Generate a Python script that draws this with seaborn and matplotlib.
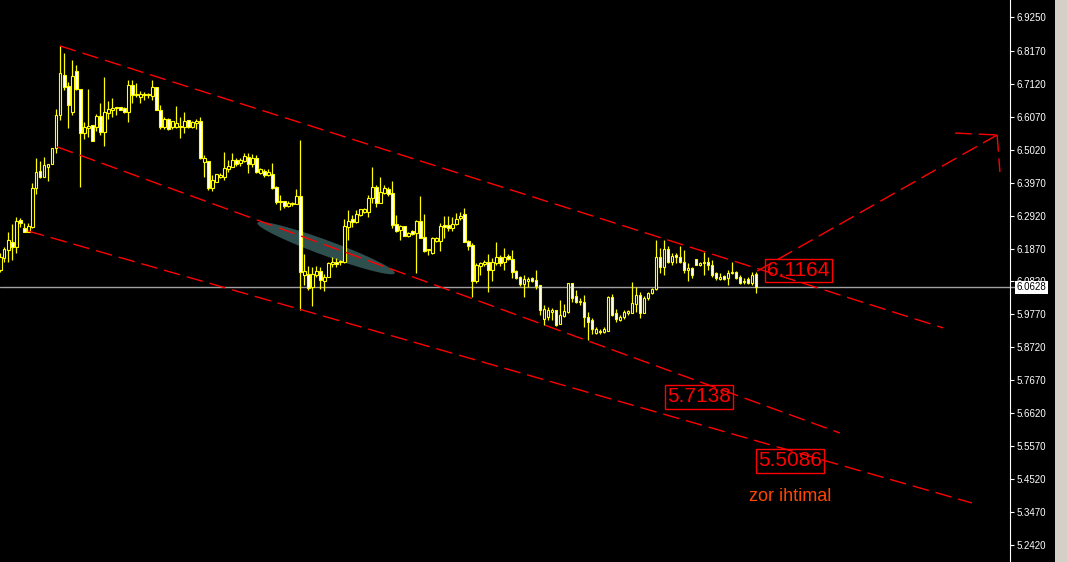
import numpy as np
import matplotlib
matplotlib.use("Agg")
import matplotlib.pyplot as plt
import matplotlib.transforms as mtransforms
from matplotlib.patches import Polygon, Rectangle
import seaborn as sns

# candle data (one bar per candle, left to right)
opens = [
    6.119, 6.157, 6.182, 6.208, 6.192, 6.278, 6.253, 6.240, 6.256, 6.380,
    6.434, 6.415, 6.447, 6.456, 6.508, 6.613, 6.740, 6.705, 6.622, 6.753,
    6.696, 6.555, 6.571, 6.581, 6.574, 6.610, 6.558, 6.619, 6.629, 6.635,
    6.638, 6.635, 6.622, 6.708, 6.676, 6.670, 6.676, 6.676, 6.673, 6.702,
    6.629, 6.574, 6.600, 6.574, 6.574, 6.574, 6.574, 6.597, 6.574, 6.587,
    6.594, 6.463, 6.466, 6.380, 6.399, 6.415, 6.415, 6.441, 6.447, 6.469,
    6.460, 6.466, 6.479, 6.456, 6.476, 6.428, 6.434, 6.421, 6.425, 6.383,
    6.339, 6.339, 6.323, 6.329, 6.329, 6.355, 6.103, 6.106, 6.064, 6.103,
    6.115, 6.084, 6.096, 6.138, 6.144, 6.144, 6.144, 6.256, 6.281, 6.272,
    6.294, 6.303, 6.303, 6.348, 6.383, 6.332, 6.364, 6.377, 6.364, 6.265,
    6.246, 6.259, 6.227, 6.243, 6.237, 6.275, 6.224, 6.182, 6.173, 6.211,
    6.211, 6.262, 6.262, 6.253, 6.265, 6.284, 6.297, 6.211, 6.198, 6.084,
    6.131, 6.138, 6.144, 6.119, 6.141, 6.160, 6.144, 6.163, 6.154, 6.115,
    6.096, 6.074, 6.084, 6.093, 6.087, 6.071, 5.962, 5.969, 5.985, 5.991,
    5.946, 5.972, 5.985, 6.077, 6.036, 6.017, 6.017, 5.969, 5.959, 5.918,
    5.924, 5.921, 5.924, 6.033, 5.981, 5.959, 5.969, 5.981, 5.981, 6.010,
    6.039, 5.981, 6.029, 6.045, 6.058, 6.160, 6.128, 6.186, 6.144, 6.166,
    6.160, 6.144, 6.119, 6.125, 6.154, 6.135, 6.141, 6.144, 6.135, 6.109,
    6.090, 6.099, 6.093, 6.109, 6.112, 6.096, 6.080, 6.090, 6.077, 6.106,
]
highs = [
    6.173, 6.192, 6.240, 6.265, 6.288, 6.284, 6.268, 6.268, 6.396, 6.476,
    6.466, 6.479, 6.456, 6.508, 6.632, 6.833, 6.810, 6.718, 6.788, 6.772,
    6.696, 6.590, 6.696, 6.581, 6.616, 6.651, 6.734, 6.657, 6.667, 6.638,
    6.638, 6.638, 6.724, 6.724, 6.715, 6.689, 6.686, 6.683, 6.724, 6.702,
    6.645, 6.606, 6.603, 6.594, 6.641, 6.606, 6.622, 6.597, 6.594, 6.600,
    6.606, 6.485, 6.466, 6.421, 6.425, 6.428, 6.495, 6.469, 6.492, 6.476,
    6.476, 6.492, 6.492, 6.488, 6.485, 6.444, 6.441, 6.441, 6.460, 6.386,
    6.358, 6.339, 6.339, 6.335, 6.377, 6.533, 6.170, 6.131, 6.128, 6.131,
    6.128, 6.106, 6.144, 6.160, 6.157, 6.151, 6.281, 6.310, 6.294, 6.310,
    6.313, 6.316, 6.358, 6.447, 6.390, 6.415, 6.390, 6.383, 6.402, 6.294,
    6.262, 6.259, 6.240, 6.246, 6.278, 6.355, 6.297, 6.186, 6.224, 6.224,
    6.268, 6.291, 6.291, 6.288, 6.300, 6.303, 6.316, 6.214, 6.205, 6.141,
    6.144, 6.151, 6.170, 6.157, 6.208, 6.166, 6.189, 6.170, 6.182, 6.119,
    6.099, 6.103, 6.096, 6.096, 6.119, 6.071, 6.007, 6.001, 5.997, 5.991,
    6.023, 6.010, 6.077, 6.077, 6.055, 6.029, 6.039, 5.985, 5.966, 5.937,
    5.931, 5.937, 6.036, 6.042, 5.994, 5.975, 5.991, 5.991, 6.080, 6.064,
    6.048, 6.036, 6.048, 6.061, 6.214, 6.189, 6.214, 6.195, 6.173, 6.173,
    6.195, 6.182, 6.141, 6.128, 6.154, 6.144, 6.176, 6.160, 6.151, 6.112,
    6.109, 6.103, 6.119, 6.144, 6.115, 6.103, 6.093, 6.096, 6.112, 6.112,
]
lows = [
    6.112, 6.144, 6.144, 6.151, 6.173, 6.256, 6.240, 6.240, 6.253, 6.361,
    6.412, 6.415, 6.402, 6.456, 6.492, 6.597, 6.692, 6.571, 6.613, 6.692,
    6.383, 6.536, 6.543, 6.530, 6.562, 6.549, 6.514, 6.600, 6.606, 6.613,
    6.629, 6.619, 6.590, 6.651, 6.670, 6.651, 6.661, 6.667, 6.661, 6.629,
    6.568, 6.568, 6.565, 6.568, 6.571, 6.539, 6.555, 6.571, 6.571, 6.568,
    6.472, 6.415, 6.374, 6.370, 6.399, 6.412, 6.406, 6.431, 6.447, 6.450,
    6.450, 6.463, 6.428, 6.447, 6.428, 6.425, 6.415, 6.418, 6.377, 6.329,
    6.310, 6.316, 6.319, 6.323, 6.329, 5.991, 6.071, 6.055, 6.004, 6.096,
    6.058, 6.052, 6.096, 6.128, 6.128, 6.135, 6.141, 6.214, 6.256, 6.268,
    6.291, 6.300, 6.288, 6.332, 6.319, 6.332, 6.361, 6.355, 6.253, 6.240,
    6.214, 6.227, 6.224, 6.230, 6.109, 6.221, 6.176, 6.166, 6.170, 6.208,
    6.179, 6.221, 6.243, 6.243, 6.262, 6.278, 6.208, 6.182, 6.033, 6.077,
    6.103, 6.131, 6.048, 6.084, 6.135, 6.131, 6.119, 6.151, 6.093, 6.090,
    6.068, 6.033, 6.064, 6.080, 6.058, 5.975, 5.943, 5.959, 5.959, 5.940,
    5.946, 5.969, 5.981, 6.017, 6.013, 6.007, 5.937, 5.896, 5.915, 5.915,
    5.915, 5.918, 5.924, 5.972, 5.953, 5.956, 5.962, 5.975, 5.981, 5.985,
    5.966, 5.981, 6.023, 6.042, 6.055, 6.109, 6.103, 6.141, 6.135, 6.141,
    6.141, 6.109, 6.084, 6.093, 6.135, 6.131, 6.103, 6.119, 6.096, 6.087,
    6.087, 6.087, 6.071, 6.106, 6.090, 6.074, 6.074, 6.074, 6.071, 6.045,
]
closes = [
    6.160, 6.186, 6.214, 6.192, 6.275, 6.268, 6.240, 6.259, 6.380, 6.431,
    6.415, 6.453, 6.456, 6.508, 6.613, 6.747, 6.702, 6.645, 6.737, 6.696,
    6.555, 6.574, 6.578, 6.530, 6.610, 6.558, 6.622, 6.632, 6.635, 6.638,
    6.629, 6.622, 6.708, 6.676, 6.680, 6.680, 6.680, 6.680, 6.702, 6.629,
    6.574, 6.600, 6.568, 6.594, 6.587, 6.578, 6.594, 6.574, 6.590, 6.594,
    6.476, 6.476, 6.380, 6.406, 6.425, 6.421, 6.444, 6.450, 6.469, 6.456,
    6.469, 6.482, 6.456, 6.476, 6.431, 6.441, 6.421, 6.431, 6.380, 6.335,
    6.335, 6.323, 6.332, 6.332, 6.355, 6.112, 6.115, 6.061, 6.106, 6.115,
    6.087, 6.096, 6.141, 6.144, 6.138, 6.147, 6.259, 6.275, 6.272, 6.297,
    6.313, 6.313, 6.348, 6.383, 6.332, 6.367, 6.380, 6.361, 6.262, 6.243,
    6.259, 6.227, 6.237, 6.233, 6.275, 6.221, 6.179, 6.186, 6.221, 6.221,
    6.259, 6.256, 6.253, 6.265, 6.281, 6.291, 6.208, 6.195, 6.084, 6.135,
    6.141, 6.144, 6.119, 6.144, 6.160, 6.141, 6.160, 6.154, 6.112, 6.093,
    6.074, 6.090, 6.090, 6.084, 6.068, 5.991, 5.994, 5.991, 5.991, 5.943,
    5.975, 5.988, 6.077, 6.029, 6.017, 6.020, 5.969, 5.953, 5.931, 5.931,
    5.921, 5.931, 6.033, 5.975, 5.962, 5.969, 5.985, 5.988, 6.013, 6.039,
    5.981, 6.029, 6.045, 6.058, 6.160, 6.128, 6.186, 6.144, 6.163, 6.160,
    6.144, 6.119, 6.125, 6.103, 6.135, 6.141, 6.144, 6.135, 6.103, 6.093,
    6.096, 6.090, 6.109, 6.112, 6.093, 6.077, 6.084, 6.077, 6.103, 6.063,
]

y_ticks = [6.9250, 6.8170, 6.7120, 6.6070, 6.5020, 6.3970, 6.2920, 6.1870, 6.0820,
           5.9770, 5.8720, 5.7670, 5.6620, 5.5570, 5.4520, 5.3470, 5.2420]
last_price = 6.0628

# channel lines: (candle index, price) at both ends
upper_x, upper_y = [14.9, 235.7], [6.833, 5.934]
middle_x, middle_y = [14.2, 209.9], [6.511, 5.599]
lower_x, lower_y = [6.9, 242.9], [6.243, 5.376]
# hand drawn arrow (shaft + two barbs)
arrow_x, arrow_y = [189.2, 249.2], [6.115, 6.549]
barb1_x, barb1_y = [238.7, 249.2], [6.555, 6.549]
barb2_x, barb2_y = [249.2, 249.9], [6.549, 6.431]
# shaded stroke along the middle line
stroke_x, stroke_y = [64.2, 98.7], [6.268, 6.109]
stroke_half = 0.026

level_labels = ["6.1164", "5.7138", "5.5086"]
level_x = [199.5, 174.7, 197.4]
level_y = [6.118, 5.714, 5.510]
note_text = "zor ihtimal"
note_x, note_y = 197.4, 5.398

W, H = 1067, 562
AX_RIGHT = 1010

sns.set_style("dark", {"axes.facecolor": "black", "figure.facecolor": "black"})
plt.rcParams['font.family'] = ['Liberation Sans', 'DejaVu Sans']

fig = plt.figure(figsize=(W / 100, H / 100), dpi=100, facecolor="black")
ax = fig.add_axes([0, 0, AX_RIGHT / W, 1])
ax.set_facecolor("black")

o = np.array(opens)
h = np.array(highs)
l = np.array(lows)
c = np.array(closes)
x = np.arange(len(c))
bull = c >= o

# wicks then bodies
ax.vlines(x, l, h, color="#FFFF00", lw=0.9, zorder=3)
ax.bar(x[bull], (c - o)[bull], bottom=o[bull], width=0.6, color="black",
       edgecolor="#FFFF00", linewidth=0.8, zorder=4)
ax.bar(x[~bull], (o - c)[~bull], bottom=c[~bull], width=0.6, color="white",
       edgecolor="#FFFF00", linewidth=0.8, zorder=4)

# shaded stroke (lens shape along a segment)
t = np.linspace(0, 1, 80)
cx = stroke_x[0] + (stroke_x[1] - stroke_x[0]) * t
cy = stroke_y[0] + (stroke_y[1] - stroke_y[0]) * t
hw = stroke_half * np.sqrt(np.clip(1 - (2 * t - 1) ** 2, 0, 1))
poly = np.concatenate([np.column_stack([cx, cy + hw]), np.column_stack([cx[::-1], (cy - hw)[::-1]])])
ax.add_patch(Polygon(poly, closed=True, fc="#2F4F4F", ec="none", zorder=2))

# current price line
blend = mtransforms.blended_transform_factory(ax.transAxes, ax.transData)
ax.plot([0, 1.006], [last_price, last_price], color="#A0A0A0", lw=1, transform=blend,
        clip_on=False, zorder=2)

dash = (0, (12, 5))
for lx, ly in [(upper_x, upper_y), (middle_x, middle_y), (lower_x, lower_y),
               (arrow_x, arrow_y), (barb1_x, barb1_y), (barb2_x, barb2_y)]:
    sns.lineplot(x=lx, y=ly, ax=ax, color="#FF0000", lw=1, linestyle=dash,
                 sort=False, estimator=None, zorder=5)

for txt, tx, ty in zip(level_labels, level_x, level_y):
    ax.text(tx, ty, txt, color="#FF0000", fontsize=15, ha="center", va="center", zorder=6,
            bbox=dict(boxstyle="square,pad=0.1", fc="none", ec="#FF0000", lw=1))
ax.text(note_x, note_y, note_text, color="#FF4500", fontsize=13, ha="center",
        va="center", zorder=6)

ax.set_xlim(-0.075, (AX_RIGHT - 0.3) / 4)
ax.set_ylim(5.1878, 6.9792)
ax.grid(False)
ax.set_xticks([])
ax.yaxis.tick_right()
ax.set_yticks(y_ticks)
ax.set_yticklabels([f"{v:.4f}" for v in y_ticks])
ax.tick_params(axis="y", colors="white", labelcolor="white", direction="out",
               length=3, width=0.8, pad=2, labelsize=7)
for side in ["top", "bottom", "left"]:
    ax.spines[side].set_visible(False)
ax.spines["right"].set_visible(True)
ax.spines["right"].set_color("white")
ax.spines["right"].set_linewidth(0.8)

ax.text(1.0065, last_price, f"{last_price:.4f}", transform=blend, color="black",
        fontsize=7, ha="left", va="center", zorder=10, clip_on=False,
        bbox=dict(boxstyle="square,pad=0.15", fc="white", ec="none"))

fig.add_artist(Rectangle((1055 / W, 0), (W - 1055) / W, 1, transform=fig.transFigure,
                         fc="#D4D0C8", ec="none"))

fig.savefig("out.png", dpi=100, facecolor="black")
